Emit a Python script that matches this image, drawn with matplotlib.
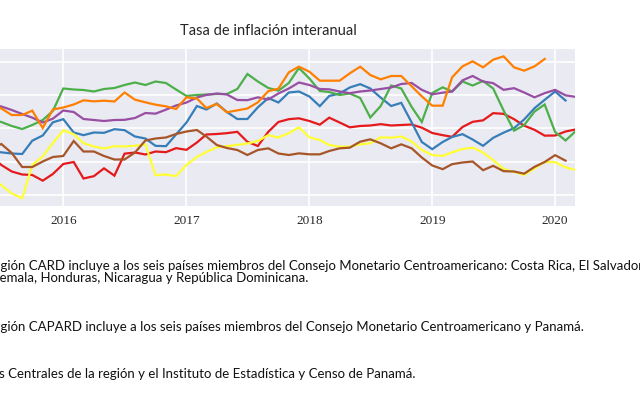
import matplotlib
matplotlib.use("Agg")
import matplotlib.pyplot as plt
import pandas as pd
import datetime as dt

# ---------------- data ----------------
months = pd.date_range("2015-06-01", "2020-03-01", freq="MS")

serie_roja = [2.34, 1.80, 1.41, 1.23, 1.20, 0.86, 1.26,
              1.86, 1.98, 0.99, 1.13, 1.60, 1.16, 2.48, 2.55, 2.43, 2.61, 2.57, 2.81,
              2.71, 3.15, 3.63, 3.66, 3.71, 3.79, 3.19, 2.94, 3.79, 4.38, 4.55, 4.60,
              4.44, 4.22, 4.64, 4.35, 4.06, 4.14, 4.17, 4.25, 4.17, 4.20, 4.23, 4.04,
              3.72, 3.59, 3.49, 4.08, 4.39, 4.48, 4.91, 4.87, 4.55, 4.16, 3.91, 3.56,
              3.57, 3.81, 3.93]
serie_azul = [2.64, 2.56, 2.49, 2.46, 3.26, 3.57, 4.36,
              4.55, 3.75, 3.59, 3.75, 3.73, 3.95, 3.89, 3.51, 3.39, 2.95, 2.93, 3.63,
              4.35, 5.34, 5.13, 5.49, 4.98, 4.56, 4.56, 5.26, 5.82, 5.55, 6.15, 6.21,
              5.91, 5.33, 5.94, 6.09, 6.45, 6.65, 6.39, 5.84, 5.34, 5.53, 4.35, 3.18,
              2.75, 3.18, 3.48, 3.65, 3.33, 2.95, 3.43, 3.74, 4.01, 4.53, 5.21, 5.71,
              6.21, 5.67]
serie_verde = [4.50, 4.38, 4.14, 3.96, 4.20, 4.50, 5.04,
               6.39, 6.33, 6.30, 6.21, 6.36, 6.42, 6.60, 6.75, 6.60, 6.81, 6.72, 6.33,
               5.94, 6.00, 6.03, 6.06, 6.06, 6.36, 7.26, 6.81, 6.42, 6.26, 6.72, 7.62,
               6.99, 6.24, 6.18, 6.00, 6.09, 5.82, 4.65, 5.34, 6.57, 6.39, 5.28, 4.38,
               6.12, 6.46, 6.21, 6.81, 6.57, 6.84, 6.39, 5.07, 3.86, 4.19, 5.01, 5.43,
               3.78, 3.27, 3.81]
serie_morada = [5.46, 5.31, 5.10, 4.86, 4.64, 4.35, 4.58,
                5.07, 4.98, 4.56, 4.50, 4.44, 4.50, 4.51, 4.62, 4.92, 4.88, 5.12, 5.37,
                5.55, 5.85, 6.00, 6.09, 6.03, 5.70, 5.69, 5.86, 5.73, 6.09, 6.39, 6.75,
                6.60, 6.36, 6.34, 6.21, 6.11, 6.21, 6.27, 6.36, 6.45, 6.66, 6.72, 6.31,
                6.04, 6.14, 6.21, 6.88, 7.14, 6.81, 6.71, 6.31, 6.41, 6.15, 5.86, 6.11,
                6.31, 5.98, 5.89]
serie_naranja = [5.52, 5.19, 4.80, 4.80, 5.06, 4.02, 5.13,
                 5.25, 5.43, 5.68, 5.62, 5.66, 5.61, 6.15, 5.72, 5.56, 5.42, 5.32, 5.16,
                 5.86, 5.79, 5.22, 5.46, 4.96, 5.08, 5.19, 5.56, 6.23, 6.38, 7.36, 7.70,
                 7.40, 6.86, 6.86, 6.86, 7.30, 7.70, 7.20, 6.94, 7.14, 7.14, 6.52, 5.92,
                 5.36, 5.36, 7.06, 7.72, 8.02, 7.66, 8.12, 8.32, 7.66, 7.46, 7.72, 8.16]
serie_amarilla = [1.02, 0.60, 0.09, -0.19, 1.81, 2.31, 3.11,
                  3.88, 3.65, 3.11, 2.91, 2.79, 2.93, 2.91, 2.95, 3.03, 1.19, 1.23, 1.13,
                  1.81, 2.28, 2.58, 2.86, 2.93, 3.01, 3.09, 3.24, 3.59, 3.45, 3.71, 4.06,
                  3.46, 3.30, 3.00, 2.90, 2.90, 3.04, 3.10, 3.46, 3.44, 3.51, 3.21, 2.70,
                  2.40, 2.34, 2.56, 2.76, 2.84, 2.55, 2.09, 1.56, 1.38, 1.21, 1.59, 1.98,
                  1.97, 1.66, 1.51]
serie_cafe = [2.76, 3.06, 2.52, 1.68, 1.68, 2.01, 2.28,
              2.34, 3.24, 2.61, 2.61, 2.34, 2.13, 2.13, 2.55, 3.27, 3.39, 3.45, 3.66,
              3.81, 3.90, 3.51, 3.00, 2.82, 2.70, 2.40, 2.70, 2.80, 2.49, 2.40, 2.50,
              2.44, 2.44, 2.64, 2.80, 2.84, 3.20, 3.34, 3.10, 2.80, 3.04, 2.80, 2.25,
              1.77, 1.55, 1.85, 1.95, 2.01, 1.49, 1.75, 1.43, 1.41, 1.28, 1.69, 1.98,
              2.39, 2.06]

series = [serie_roja, serie_azul, serie_verde, serie_morada,
          serie_naranja, serie_amarilla, serie_cafe]
colors = ["#e41a1c", "#377eb8", "#4daf4a", "#984ea3",
          "#ff7f00", "#ffff33", "#a65628"]

year_ticks = ["2016", "2017", "2018", "2019", "2020"]
y_grid = [0, 2, 4, 6, 8]
title = "Tasa de inflación interanual"
notes = [
    "La región CARD incluye a los seis países miembros del Consejo Monetario Centroamericano: Costa Rica, El Salvador,",
    "Guatemala, Honduras, Nicaragua y República Dominicana.",
    "La región CAPARD incluye a los seis países miembros del Consejo Monetario Centroamericano y Panamá.",
    "Fuente: Bancos Centrales de la región y el Instituto de Estadística y Censo de Panamá.",
]
note_prefix = ["La re", "Guat", "La re", "Fuente: Bancos"]

# ---------------- figure ----------------
W, H = 640, 396
fig = plt.figure(figsize=(W / 100, H / 100), dpi=100)
fig.patch.set_facecolor("white")

ax_left, ax_right, ax_top, ax_bottom = -59.6, 575.3, 49.3, 205.7
ax = fig.add_axes([ax_left / W, 1 - ax_bottom / H,
                   (ax_right - ax_left) / W, (ax_bottom - ax_top) / H])
ax.set_facecolor("#EAEAF2")
for s in ax.spines.values():
    s.set_visible(False)

for vals, c in zip(series, colors):
    ax.plot(months[:len(vals)], vals, color=c, lw=1.6, solid_joinstyle="miter")

ax.set_xlim(dt.datetime(2015, 1, 1), dt.datetime(2020, 3, 1))
ax.set_ylim(-0.642, 8.742)
ax.set_yticks(y_grid)
ax.set_yticklabels([])
ax.set_xticks([dt.datetime(int(y), 1, 1) for y in year_ticks])
ax.set_xticklabels(year_ticks, fontfamily="Liberation Serif", fontsize=9.5,
                   color="#262626")
ax.tick_params(length=0, pad=7)
ax.grid(True, color="white", lw=1.2)
ax.set_axisbelow(True)

fig.text(268 / W, 1 - 31 / H, title, ha="center", va="center",
         fontfamily="Lato", fontsize=10.5, color="#262626")

renderer = fig.canvas.get_renderer()
note_font = dict(fontfamily="Lato", fontsize=9.5, color="#111111")
note_y = [266, 278, 327, 374]
note_x = [0, 0, 0, 5]
for txt, pre, y, x0 in zip(notes, note_prefix, note_y, note_x):
    tmp = fig.text(0, 0, pre, **note_font)
    wpre = tmp.get_window_extent(renderer).width
    tmp.remove()
    fig.text((x0 - wpre) / W, 1 - y / H, txt, ha="left", va="center", **note_font)

fig.savefig("out.png", dpi=100)
